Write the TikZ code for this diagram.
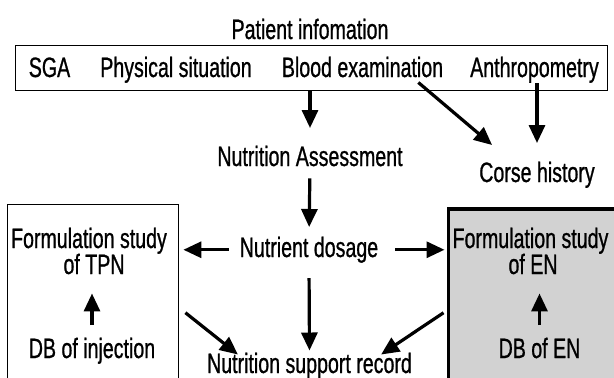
\documentclass[tikz,border=0pt]{standalone}
\usepackage{fontspec}
\setmainfont{Liberation Sans}[FakeStretch=0.70,FakeBold=0.8]
\usetikzlibrary{arrows.meta,positioning,calc}
\definecolor{enfill}{RGB}{210,210,210}

\begin{document}
\begin{tikzpicture}[x=1pt,y=-1pt,
         txt/.style = {anchor=base,inner sep=0pt,
         font=\fontsize{28}{31}\selectfont},
         flow/.style = {line width=3.2pt,
         -{Triangle[length=18pt,width=16pt]}},
         frame/.style = {draw,line width=1.4pt,anchor=north west,
         inner sep=0pt}]

      \useasboundingbox (0,0) rectangle (614,378);

      % boxes
      \node[frame,minimum width=592pt,minimum height=45pt] (info) at (15,45) {};
      \node[frame,minimum width=171pt,minimum height=190pt] (tpnbox) at (7,204) {};
      \node[frame,line width=3.5pt,fill=enfill,minimum width=180pt,
         minimum height=190pt] (enbox) at (446.5,207) {};

      % patient information
      \node[txt] (title)  at (310,39)   {Patient infomation};
      \node[txt] (sga)    at (49.5,77)  {SGA};
      \node[txt] (phys)   at (176,77)   {Physical situation};
      \node[txt] (blood)  at (362.5,77) {Blood examination};
      \node[txt] (anthro) at (534.5,77) {Anthropometry};

      % assessment and dosage
      \node[txt] (assess)  at (310,166) {Nutrition Assessment};
      \node[txt] (course)  at (537,182) {Corse history};
      \node[txt] (dosage)  at (309,257) {Nutrient dosage};
      \node[txt] (support) at (309.5,373) {Nutrition support record};

      % TPN side
      \node[txt] (tpn1)  at (89,248)  {Formulation study};
      \node[txt] (tpn2)  at (94,274)  {of TPN};
      \node[txt] (dbinj) at (92,358)  {DB of injection};

      % EN side
      \node[txt] (en1)  at (530.5,248) {Formulation study};
      \node[txt] (en2)  at (533,274)   {of EN};
      \node[txt] (dben) at (539.5,358) {DB of EN};

      % arrows
      \draw[flow,shorten >=17.5pt] (info.south -| assess.north) -- (assess.north);
      \draw[flow] ([xshift=-25pt,yshift=-5pt]blood.south east)
         -- ([xshift=13pt,yshift=16.5pt]course.north west);
      \draw[flow,shorten >=18.5pt] (anthro.south -| course.north) -- (course.north);
      \draw[flow,shorten <=12pt,shorten >=9.5pt] (assess.south) -- (dosage.north);
      \draw[flow,shorten <=11pt,shorten >=4pt] (dosage.west) -- (dosage.west -| tpnbox.east);
      \draw[flow,shorten <=17pt,shorten >=2pt] (dosage.east) -- (dosage.east -| enbox.west);
      \draw[flow,shorten <=15pt,shorten >=2pt] (dosage.south) -- (support.north);
      \draw[flow] ([shift={(6,13)}]tpnbox.east) -- ([shift={(31,2)}]support.north west);
      \draw[flow] ([shift={(-3,9)}]enbox.west) -- ([shift={(-31,2)}]support.north east);
      \draw[flow,shorten <=12.5pt,shorten >=19pt] (dbinj.north) -- (dbinj.north |- tpn2.south);
      \draw[flow,shorten <=12.5pt,shorten >=19pt] (dben.north) -- (dben.north |- en2.south);

\end{tikzpicture}
\end{document}
